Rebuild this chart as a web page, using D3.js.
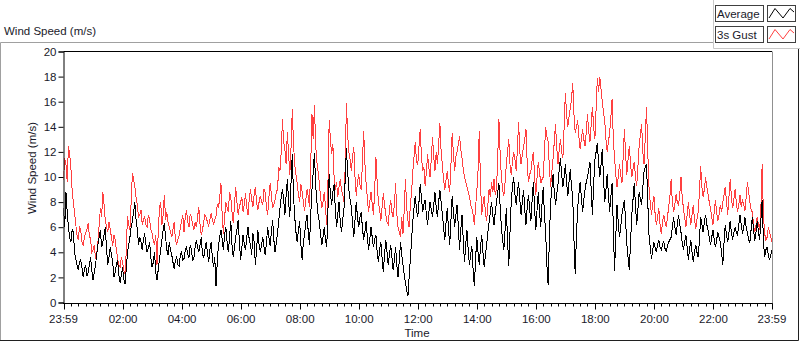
<!DOCTYPE html>
<html lang="en">
<head>
<meta charset="UTF-8">
<title>Wind Speed</title>
<script src="https://cdn.jsdelivr.net/npm/d3@7"></script>
<style>
  body { margin: 0; background: #fff; }
  svg { display: block; font-family: "Liberation Sans", Arial, sans-serif; }
  .lbl { font-size: 11.5px; fill: #1a1a2a; }
</style>
</head>
<body>
<div id="chart"></div>
<script>
// samples every 2.5 minutes, from 23:59 (minute 0) to 23:59 next day (minute 1440)
const stepMin = 2.5;

const average = [
  7.5,6.0, 8.8,7.2, 6.0,5.2, 4.8,5.8, 5.6,4.0, 3.5,3.0, 2.6,3.2, 3.4,2.8, 2.0,2.6, 3.0,2.1,
  2.4,3.0, 3.6,2.6, 1.8,2.4, 3.0,3.8, 4.6,5.2, 5.8,4.4, 4.8,5.4, 6.0,4.2, 3.0,3.6, 4.4,3.8,
  3.2,2.0, 2.4,3.0, 3.4,2.2, 1.6,2.2, 2.8,1.9, 1.5,2.6, 4.0,4.6, 5.2,6.0, 6.5,7.2, 8.0,6.6,
  5.8,4.6, 5.2,4.8, 4.2,5.0, 5.5,4.6, 4.0,4.4, 4.8,3.6, 2.8,3.2, 4.0,2.4, 1.8,2.6, 3.4,4.2,
  5.0,5.8, 6.3,5.2, 4.2,3.8, 4.8,4.2, 3.8,3.2, 2.7,3.4, 3.6,3.0, 2.9,3.8, 4.0,3.4, 3.5,4.2,
  4.4,3.8, 3.6,4.6, 4.2,3.4, 3.5,4.4, 5.0,4.4, 4.0,4.6, 5.2,3.8, 3.6,4.2, 4.8,4.0, 3.2,4.2,
  4.8,3.6, 2.8,3.6, 1.3,3.2, 4.6,5.2, 5.8,5.0, 4.2,5.4, 6.0,4.8, 4.0,5.2, 6.5,4.6, 3.6,4.4,
  5.2,5.8, 6.6,4.8, 3.4,4.4, 5.4,4.6, 4.2,5.2, 6.0,5.0, 4.6,3.8, 5.5,4.8, 3.0,4.2, 5.8,4.6,
  4.0,4.6, 5.2,4.4, 3.8,4.8, 6.0,5.2, 4.5,5.6, 6.6,5.0, 4.0,4.8, 5.5,6.5, 7.5,8.4, 9.0,8.2,
  7.0,8.6, 9.8,8.0, 6.8,9.6, 11.8,8.5, 6.8,5.6, 4.8,5.8, 6.5,4.6, 3.4,4.8, 5.5,6.4, 7.0,5.6,
  4.6,7.0, 9.0,10.4, 11.9,9.4, 8.0,7.0, 6.4,5.4, 4.6,5.2, 6.0,5.0, 4.4,7.4, 10.2,8.6, 7.8,8.8,
  9.4,7.4, 6.0,7.0, 8.0,6.4, 5.6,6.6, 7.4,9.8, 12.3,10.4, 9.0,8.2, 7.6,6.4, 5.2,6.6, 8.0,6.8,
  6.0,6.8, 7.2,6.0, 5.0,5.6, 6.5,5.2, 4.2,5.0, 6.0,5.2, 4.4,5.0, 5.4,4.0, 3.2,4.2, 4.8,3.6,
  2.4,3.8, 5.0,4.0, 3.0,3.8, 4.6,3.6, 2.6,3.4, 4.4,3.0, 2.0,3.4, 4.8,3.8, 3.0,2.2, 1.6,1.0,
  0.5,2.0, 3.5,5.0, 6.5,7.6, 8.5,7.4, 6.8,8.0, 9.4,8.4, 7.2,7.8, 8.2,7.0, 6.2,7.2, 8.0,7.4,
  6.8,7.8, 8.8,7.6, 6.8,8.0, 9.0,8.0, 7.0,6.0, 5.0,6.4, 7.5,5.8, 4.6,6.6, 8.5,7.2, 6.0,7.0,
  7.8,6.0, 4.2,5.8, 7.0,5.0, 3.2,4.6, 5.8,4.2, 3.0,3.8, 4.5,2.6, 1.3,3.4, 5.2,4.0, 3.0,4.4,
  5.4,4.0, 2.8,3.8, 4.6,5.6, 6.4,7.2, 8.0,7.0, 6.2,7.2, 8.0,8.8, 9.5,7.6, 6.0,5.0, 4.2,5.8,
  7.5,5.0, 2.9,5.6, 8.0,9.2, 10.0,8.6, 7.8,8.8, 9.6,8.2, 7.0,8.0, 9.0,7.4, 6.2,7.6, 8.6,7.4,
  6.5,8.2, 9.6,7.4, 5.8,7.4, 8.8,7.2, 6.0,7.8, 9.2,7.0, 5.5,3.0, 1.4,5.0, 8.0,9.0, 10.2,8.8,
  7.8,8.6, 9.4,10.6, 11.5,10.2, 9.2,10.0, 11.0,9.6, 8.5,9.6, 10.6,9.2, 8.4,5.0, 2.3,5.2, 7.5,8.6,
  9.6,8.4, 7.2,8.2, 9.0,9.6, 10.0,10.6, 11.2,9.0, 7.0,9.4, 11.4,12.0, 12.7,11.2, 10.0,11.0, 12.2,10.0,
  8.0,9.0, 10.2,8.6, 7.2,8.4, 9.5,6.0, 2.5,5.2, 7.8,6.4, 5.2,6.0, 7.0,7.6, 8.2,6.4, 4.6,3.6,
  2.6,4.8, 7.0,8.2, 9.5,7.8, 6.2,7.4, 8.8,8.2, 7.8,9.2, 10.5,10.8, 11.0,8.0, 5.4,4.4, 3.5,4.2,
  4.8,4.4, 4.0,4.6, 5.0,4.4, 4.2,4.6, 4.9,4.3, 4.1,4.5, 4.8,5.0, 5.2,6.0, 6.8,6.0, 5.4,6.2,
  7.0,6.2, 5.6,4.8, 4.2,4.8, 5.4,4.4, 3.4,4.2, 5.0,4.0, 3.2,4.0, 4.6,4.0, 3.6,5.0, 6.8,6.2,
  5.6,6.4, 7.0,6.2, 5.8,5.2, 4.6,5.2, 5.8,5.0, 4.4,5.0, 5.6,5.2, 4.8,4.0, 3.0,4.8, 6.2,5.4,
  4.8,5.6, 6.5,5.6, 5.0,5.6, 6.0,5.6, 5.4,6.2, 7.0,6.2, 5.5,6.0, 6.8,6.0, 5.6,5.0, 4.8,5.8,
  6.8,5.8, 4.9,5.6, 6.5,5.6, 5.0,6.6, 8.2,5.0, 3.6,4.2, 4.4,3.8, 3.4,3.8, 4.2
];

const gust = [
  9.8,11.5, 11.0,9.6, 12.5,11.8, 10.8,9.0, 8.0,7.2, 6.2,5.4, 5.0,6.0, 5.8,4.8, 4.6,5.2, 5.5,5.8,
  6.3,5.4, 5.0,4.0, 4.2,4.6, 3.5,3.9, 4.8,6.2, 7.5,6.8, 8.8,7.8, 6.5,6.0, 5.6,6.4, 5.8,5.2,
  4.5,5.4, 5.0,4.2, 3.5,3.0, 2.8,3.6, 3.2,2.6, 2.3,4.0, 6.9,6.2, 5.8,8.0, 10.3,9.8, 9.2,8.4,
  7.8,6.8, 7.0,7.4, 6.2,6.6, 6.8,6.2, 6.0,7.0, 6.6,5.8, 5.5,4.9, 4.6,5.4, 3.0,5.6, 7.5,8.0,
  6.2,7.0, 8.6,6.6, 7.2,6.4, 6.0,5.6, 5.2,5.8, 6.4,5.0, 4.6,5.0, 5.3,6.0, 6.5,7.0, 5.6,6.8,
  7.4,6.4, 6.0,7.0, 6.8,6.2, 5.8,6.4, 6.0,6.8, 7.6,6.2, 5.4,5.8, 6.4,7.0, 6.8,6.4, 6.1,6.6,
  7.1,6.6, 6.2,6.6, 6.9,7.8, 7.5,8.4, 9.5,7.0, 5.5,6.8, 8.0,7.6, 7.2,8.8, 8.4,7.2, 6.3,7.8,
  9.2,8.0, 7.0,7.6, 8.0,8.4, 7.2,7.8, 8.7,7.6, 7.0,8.2, 9.0,8.2, 7.6,8.6, 9.2,8.0, 7.4,8.0,
  8.5,8.0, 7.8,9.0, 8.8,7.6, 7.0,8.4, 9.5,8.6, 7.5,7.8, 8.2,8.8, 9.0,10.8, 10.5,12.0, 14.6,12.8,
  12.2,11.0, 13.6,11.8, 10.2,12.4, 15.4,12.6, 11.0,10.2, 9.5,8.6, 8.0,9.4, 8.8,8.0, 7.3,8.2, 9.0,8.4,
  7.6,11.0, 15.0,13.0, 15.7,12.5, 11.2,10.4, 9.5,8.4, 7.5,8.0, 8.8,7.6, 6.2,9.5, 14.5,13.0, 11.8,12.6,
  10.0,9.0, 9.6,8.4, 9.2,9.8, 9.0,8.6, 8.0,10.8, 15.9,13.4, 12.0,11.4, 10.5,11.6, 12.4,10.0, 8.5,9.6,
  10.2,9.4, 9.0,11.0, 13.7,11.2, 9.5,8.4, 7.2,8.0, 8.8,7.8, 7.0,9.0, 11.6,9.6, 8.0,7.4, 6.5,7.6,
  8.7,7.8, 7.0,6.4, 6.2,7.4, 8.2,7.2, 6.8,7.8, 9.5,7.0, 6.0,5.6, 5.2,6.8, 5.5,7.4, 9.8,7.6,
  6.5,6.0, 7.8,8.8, 10.5,11.6, 12.8,11.2, 11.0,12.4, 13.8,11.6, 10.5,10.8, 9.3,10.4, 11.8,10.8, 10.0,11.4,
  13.2,11.6, 10.5,12.0, 11.0,12.6, 14.3,12.0, 11.0,9.8, 9.0,9.8, 10.5,9.4, 8.8,11.0, 13.5,11.8, 10.5,11.6,
  12.0,12.6, 13.3,12.2, 11.5,10.6, 10.0,9.6, 9.2,8.8, 8.5,7.8, 7.5,7.0, 6.2,7.6, 8.8,10.5, 13.7,9.6,
  7.0,7.8, 8.5,7.2, 6.5,7.8, 9.0,8.4, 9.6,8.8, 9.8,8.6, 9.0,11.5, 14.6,11.8, 10.0,9.0, 8.5,9.6,
  11.0,12.0, 13.0,11.0, 10.2,11.2, 12.0,11.4, 10.5,12.2, 14.4,12.0, 11.0,11.8, 12.4,13.0, 13.8,11.0, 9.6,10.2,
  10.5,11.4, 12.0,10.0, 8.6,10.0, 11.2,10.4, 9.5,9.8, 10.0,12.0, 14.0,13.2, 12.8,10.8, 9.2,10.4, 11.5,12.8,
  14.2,12.4, 11.0,12.2, 13.0,12.0, 11.5,14.0, 16.7,15.0, 14.0,14.8, 15.5,16.2, 17.5,15.0, 13.5,14.0, 14.5,13.2,
  12.2,13.0, 13.8,13.0, 12.5,13.6, 15.0,13.6, 12.8,14.2, 15.6,14.0, 13.0,15.4, 17.9,16.8, 18.0,17.0, 16.0,15.2,
  14.5,13.0, 12.0,12.8, 13.5,14.8, 16.2,13.0, 11.5,10.2, 9.2,10.0, 11.0,10.2, 9.5,11.6, 13.8,11.8, 10.2,11.4,
  12.5,11.0, 10.0,10.6, 11.2,10.0, 9.3,10.8, 12.5,13.4, 14.2,12.0, 11.0,13.2, 15.6,12.0, 9.2,8.0, 7.0,7.8,
  8.5,7.0, 6.2,6.8, 7.5,6.2, 5.5,6.4, 7.0,6.4, 6.0,6.8, 7.6,8.4, 9.8,8.0, 7.2,7.8, 8.6,8.0,
  7.8,8.6, 10.0,8.4, 7.5,6.8, 6.0,7.0, 8.0,7.0, 6.2,7.0, 7.8,6.6, 5.9,6.6, 7.2,8.8, 10.9,9.2,
  8.4,9.0, 10.0,9.2, 8.6,8.0, 7.5,6.8, 6.2,7.2, 8.2,7.2, 6.5,7.0, 7.8,7.2, 8.0,8.6, 9.2,8.0,
  7.0,8.4, 9.8,8.4, 7.5,8.2, 9.0,8.0, 7.2,7.8, 8.6,7.6, 8.2,7.8, 7.3,8.4, 9.6,8.8, 8.0,7.4,
  7.2,6.2, 5.6,6.2, 6.8,6.2, 5.8,7.6, 11.0,7.0, 5.5,5.0, 5.2,6.0, 5.6,5.2, 4.8
];

const xTickMinutes = [0, 121, 241, 361, 481, 601, 721, 841, 961, 1081, 1201, 1321, 1440];
const xTickLabels = ["23:59", "02:00", "04:00", "06:00", "08:00", "10:00", "12:00",
                     "14:00", "16:00", "18:00", "20:00", "22:00", "23:59"];
const yTicks = [0, 2, 4, 6, 8, 10, 12, 14, 16, 18, 20];
const seriesNames = ["Average", "3s Gust"];
const seriesColors = ["#000000", "#ff4040"];

const W = 800, H = 342;
const svg = d3.select('#chart').append('svg')
  .attr('width', W).attr('height', H);

const x = d3.scaleLinear().domain([0, 1440]).range([63.5, 772]);
const y = d3.scaleLinear().domain([0, 20]).range([302.5, 51.5]);

// outer frame
svg.append('path').attr('d', 'M0.5,341 V42.5 H713').attr('fill', 'none').attr('stroke', '#a0a0a0');
svg.append('path').attr('d', 'M0,340.5 H798.5 V49').attr('fill', 'none').attr('stroke', '#202020');
svg.append('path').attr('d', 'M713.5,0 V48.5 H800').attr('fill', 'none').attr('stroke', '#c8c8c8');

svg.append('text').attr('class', 'lbl').attr('x', 4).attr('y', 35).text('Wind Speed (m/s)');

// plot area
const plot = svg.append('g');
svg.append('clipPath').attr('id', 'clip').append('rect')
  .attr('x', 63.5).attr('y', 51.5).attr('width', 709).attr('height', 251);

const line = d3.line()
  .x((d, i) => x(i * stepMin))
  .y(d => y(d));

[gust, average].forEach((s, k) => {
  plot.append('path')
    .datum(s)
    .attr('clip-path', 'url(#clip)')
    .attr('fill', 'none')
    .attr('stroke', seriesColors[1 - k])
    .attr('stroke-width', 1)
    .attr('shape-rendering', 'crispEdges')
    .attr('d', line);
});

// frame of plot area
svg.append('line').attr('x1', 63.5).attr('x2', 772).attr('y1', 51.5).attr('y2', 51.5).attr('stroke', '#000');
svg.append('line').attr('x1', 772.5).attr('x2', 772.5).attr('y1', 51.5).attr('y2', 303).attr('stroke', '#909090');

// y axis
const yAxis = svg.append('g').attr('transform', 'translate(63.5,0)')
  .call(d3.axisLeft(y).tickValues(yTicks).tickSize(5).tickPadding(2).tickFormat(d3.format('d')));
yAxis.select('.domain').attr('stroke', '#000');
yAxis.selectAll('text').attr('class', 'lbl').attr('font-family', null).attr('font-size', null).attr('fill', null);

// x axis: minor ticks every 15 min, major ticks with labels
const xg = svg.append('g').attr('transform', 'translate(0,303.5)');
xg.append('line').attr('x1', 63).attr('x2', 772.5).attr('stroke', '#000');
xg.selectAll('.minor').data(d3.range(0, 1441, 15)).enter().append('line')
  .attr('x1', d => Math.round(x(d)) + 0.5).attr('x2', d => Math.round(x(d)) + 0.5)
  .attr('y1', 0).attr('y2', 3).attr('stroke', '#000');
xg.selectAll('.major').data(xTickMinutes).enter().append('line')
  .attr('x1', d => Math.round(x(d)) + 0.5).attr('x2', d => Math.round(x(d)) + 0.5)
  .attr('y1', 0).attr('y2', 6).attr('stroke', '#000');
xg.selectAll('text').data(xTickMinutes).enter().append('text')
  .attr('class', 'lbl')
  .attr('x', d => x(d)).attr('y', 19)
  .attr('text-anchor', 'middle')
  .text((d, i) => xTickLabels[i]);

svg.append('text').attr('class', 'lbl').attr('x', 417).attr('y', 337)
  .attr('text-anchor', 'middle').text('Time');

svg.append('text').attr('class', 'lbl')
  .attr('transform', 'translate(36,168) rotate(-90)')
  .attr('text-anchor', 'middle').attr('fill', '#2a2a5a').text('Wind Speed (m/s)');

// legend
const zig = d3.line()([[769, 18], [775, 8.5], [783, 18], [790, 8.5], [794, 12]]);
seriesNames.forEach((name, i) => {
  const g = svg.append('g').attr('transform', `translate(0,${i * 21})`);
  g.append('rect').attr('x', 715.5).attr('y', 5.5).attr('width', 48).attr('height', 16)
    .attr('fill', '#fff').attr('stroke', '#404040');
  g.append('text').attr('class', 'lbl').attr('x', 717).attr('y', 18).text(name);
  g.append('rect').attr('x', 767.5).attr('y', 5.5).attr('width', 28).attr('height', 16)
    .attr('fill', '#fff').attr('stroke', '#404040');
  g.append('path').attr('d', zig).attr('fill', 'none').attr('stroke', seriesColors[i]);
});
</script>
</body>
</html>
